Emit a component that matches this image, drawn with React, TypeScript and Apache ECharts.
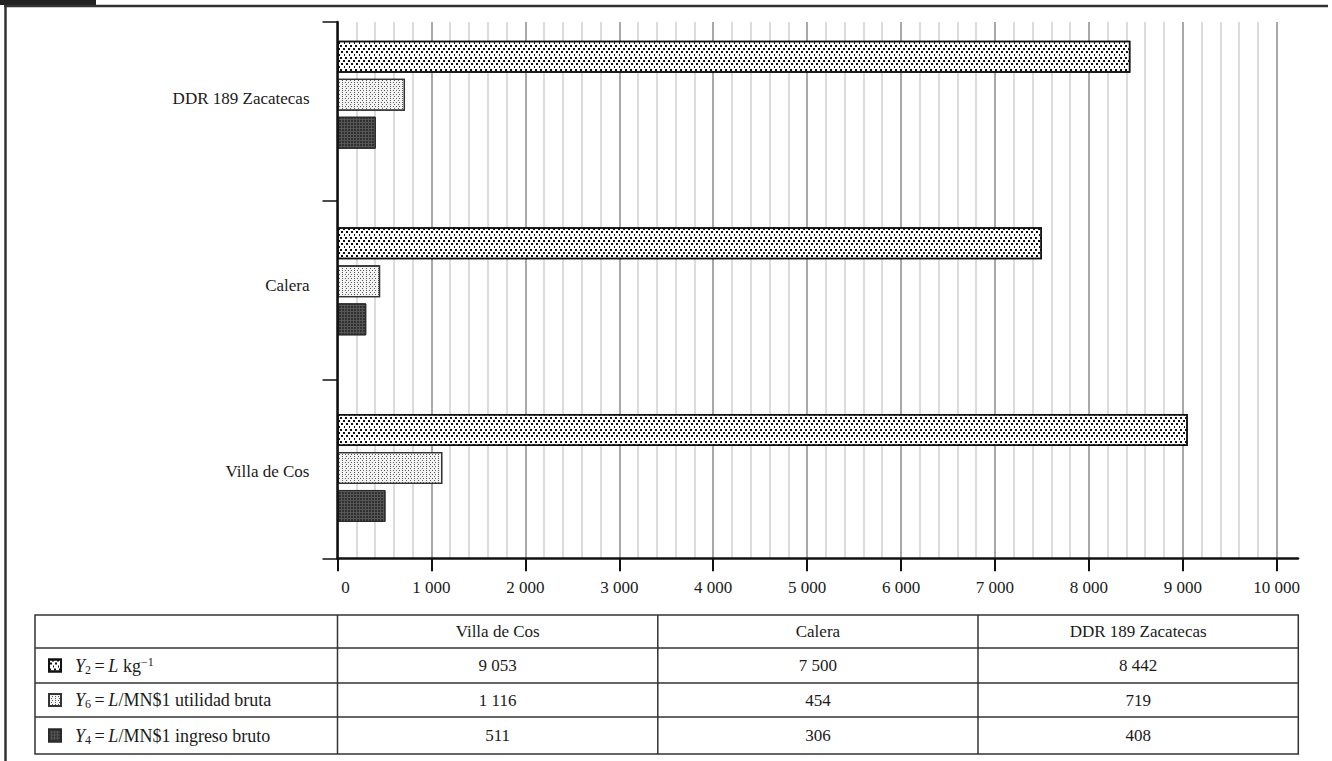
import React, { useEffect, useRef } from 'react';
import * as echarts from 'echarts';

// ---------- data ----------
const categories = ['Villa de Cos', 'Calera', 'DDR 189 Zacatecas'];
const seriesNames = ['Y2 = L kg-1', 'Y6 = L/MN$1 utilidad bruta', 'Y4 = L/MN$1 ingreso bruto'];
const seriesRichLabels = [
  '{y|Y}{sub|2}{r|\u2009=\u2009}{i|L}{r| kg}{sup|\u22121}',
  '{y|Y}{sub|6}{r|\u2009=\u2009}{i|L}{r|/MN$1 utilidad bruta}',
  '{y|Y}{sub|4}{r|\u2009=\u2009}{i|L}{r|/MN$1 ingreso bruto}',
];
const y2Values = [9053, 7500, 8442];
const y6Values = [1116, 454, 719];
const y4Values = [511, 306, 408];
const xMin = 0;
const xMax = 10000;
const xInterval = 1000;

// ---------- layout ----------
const FONT = "'Liberation Serif', 'DejaVu Serif', 'Times New Roman', serif";
const TXT = '#1a1a1a';
const PLOT_LEFT = 337.5;
const PLOT_RIGHT = 1276.7;
const AXIS_TOP = 22;
const AXIS_BOTTOM = 558.3;
const AXIS_LINE_END = 1298;
const BAR_TOP = 1.4;
const BAR_BOTTOM = 561.3;
const TBL_ROWS = [615, 648, 683, 717, 754];
const TBL_COLS = [35, 337.5, 657.8, 978, 1298.3];

const fmt = (n: number) => String(n).replace(/\B(?=(\d{3})+(?!\d))/g, ' ');

const seriesStyles: any[] = [
  {
    color: '#ffffff',
    borderColor: '#111111',
    borderWidth: 1.5,
    decal: {
      symbol: 'rect',
      symbolSize: 1,
      color: '#111111',
      dashArrayX: [[2, 3], [0, 3, 2, 0], [0, 1, 2, 2], [0, 4, 1, 0]],
      dashArrayY: [2, 1],
    },
  },
  {
    color: '#f3f3f3',
    borderColor: '#333333',
    borderWidth: 1.3,
    decal: {
      symbol: 'rect',
      symbolSize: 1,
      color: '#5a5a5a',
      dashArrayX: [[1, 2], [0, 1.5, 1, 0.5]],
      dashArrayY: [1, 1],
    },
  },
  {
    color: '#565656',
    borderColor: '#2a2a2a',
    borderWidth: 1,
    decal: {
      symbol: 'rect',
      symbolSize: 1,
      color: '#303030',
      dashArrayX: [2, 1],
      dashArrayY: [2, 1],
    },
  },
];

const seriesValues = [y2Values, y6Values, y4Values];

export default function App() {
  const ref = useRef<HTMLDivElement>(null);

  useEffect(() => {
    if (!ref.current) return;
    const chart = echarts.init(ref.current, null, { renderer: 'svg' });

    const rowCenters = TBL_ROWS.slice(0, -1).map((y, i) => (y + TBL_ROWS[i + 1]) / 2);
    const colCenters = TBL_COLS.slice(1, -1).map((x, i) => (x + TBL_COLS[i + 2]) / 2);

    const rich = {
      y: { fontFamily: FONT, fontStyle: 'italic', fontSize: 18, color: TXT, lineHeight: 20, padding: [0, 0, 0, 9] },
      i: { fontFamily: FONT, fontStyle: 'italic', fontSize: 18, color: TXT, lineHeight: 20 },
      r: { fontFamily: FONT, fontSize: 18, color: TXT, lineHeight: 20 },
      sub: { fontFamily: FONT, fontSize: 12, color: TXT, lineHeight: 12, padding: [8, 0, 0, 0] },
      sup: { fontFamily: FONT, fontSize: 12, color: TXT, lineHeight: 12, padding: [0, 0, 8, 0] },
    };

    const graphics: any[] = [];
    // frame
    graphics.push({ type: 'rect', shape: { x: 0, y: 0, width: 96, height: 5 }, style: { fill: '#222' } });
    graphics.push({ type: 'line', shape: { x1: 4, y1: 6, x2: 1328, y2: 6 }, style: { stroke: '#333', lineWidth: 2.5 } });
    graphics.push({ type: 'line', shape: { x1: 5.5, y1: 5, x2: 5.5, y2: 761 }, style: { stroke: '#333', lineWidth: 2.5 } });
    // table grid
    graphics.push({
      type: 'rect',
      shape: { x: TBL_COLS[0], y: TBL_ROWS[0], width: TBL_COLS[4] - TBL_COLS[0], height: TBL_ROWS[4] - TBL_ROWS[0] },
      style: { fill: 'none', stroke: '#333', lineWidth: 1.5 },
    });
    TBL_ROWS.slice(1, -1).forEach((y) =>
      graphics.push({ type: 'line', shape: { x1: TBL_COLS[0], y1: y, x2: TBL_COLS[4], y2: y }, style: { stroke: '#333', lineWidth: 1.5 } })
    );
    TBL_COLS.slice(1, -1).forEach((x) =>
      graphics.push({ type: 'line', shape: { x1: x, y1: TBL_ROWS[0], x2: x, y2: TBL_ROWS[4] }, style: { stroke: '#333', lineWidth: 1.5 } })
    );
    // header texts
    categories.forEach((c, j) =>
      graphics.push({
        type: 'text',
        x: colCenters[j],
        y: rowCenters[0],
        style: { text: c, align: 'center', verticalAlign: 'middle', fontFamily: FONT, fontSize: 17, fill: TXT },
      })
    );
    // values
    seriesValues.forEach((vals, r) =>
      vals.forEach((v, j) =>
        graphics.push({
          type: 'text',
          x: colCenters[j],
          y: rowCenters[r + 1],
          style: { text: fmt(v), align: 'center', verticalAlign: 'middle', fontFamily: FONT, fontSize: 17, fill: TXT },
        })
      )
    );

    const option: any = {
      animation: false,
      backgroundColor: '#ffffff',
      grid: [
        { left: PLOT_LEFT, top: BAR_TOP, width: PLOT_RIGHT - PLOT_LEFT, height: BAR_BOTTOM - BAR_TOP, outerBoundsMode: 'none' },
        { left: PLOT_LEFT, top: AXIS_TOP, width: PLOT_RIGHT - PLOT_LEFT, height: AXIS_BOTTOM - AXIS_TOP, outerBoundsMode: 'none' },
        { left: PLOT_LEFT, top: AXIS_TOP, width: AXIS_LINE_END - PLOT_LEFT, height: AXIS_BOTTOM - AXIS_TOP, outerBoundsMode: 'none' },
      ],
      xAxis: [
        { gridIndex: 0, type: 'value', min: xMin, max: xMax, show: false },
        {
          gridIndex: 1,
          type: 'value',
          min: xMin,
          max: xMax,
          interval: xInterval,
          axisLine: { show: false },
          axisTick: { show: true, length: 13, lineStyle: { color: '#111', width: 2 } },
          axisLabel: {
            margin: 21,
            fontSize: 17,
            color: TXT,
            fontFamily: FONT,
            formatter: (v: number) => (v === 0 ? '{z|0}' : fmt(v)),
            rich: { z: { padding: [0, 0, 0, 16], fontSize: 17, fontFamily: FONT, color: TXT } },
          },
          splitLine: { show: true, lineStyle: { color: '#8c8c8c', width: 1.5 } },
          minorTick: { show: false, splitNumber: 5 },
          minorSplitLine: { show: true, lineStyle: { color: '#d0d0d0', width: 1.5 } },
        },
        {
          gridIndex: 2,
          type: 'value',
          min: 0,
          max: 1,
          axisLine: { show: true, onZero: false, lineStyle: { color: '#111', width: 2.5 } },
          axisTick: { show: false },
          axisLabel: { show: false },
          splitLine: { show: false },
          z: 3,
        },
      ],
      yAxis: [
        {
          gridIndex: 0,
          type: 'category',
          data: categories,
          axisLine: { show: false },
          axisTick: { show: false },
          axisLabel: {
            margin: 28,
            formatter: (v: string) => '{c|' + v + '}',
            rich: { c: { fontSize: 17, color: TXT, fontFamily: FONT, padding: [8, 0, 0, 0] } },
          },
        },
        {
          gridIndex: 1,
          type: 'category',
          data: categories,
          axisLine: { show: false },
          axisTick: { show: true, length: 15, lineStyle: { color: '#111', width: 1.5 } },
          axisLabel: { show: false },
        },
        {
          gridIndex: 2,
          type: 'value',
          min: 0,
          max: 1,
          axisLine: { show: true, onZero: false, lineStyle: { color: '#111', width: 2.5 } },
          axisTick: { show: false },
          axisLabel: { show: false },
          splitLine: { show: false },
          z: 3,
        },
      ],
      legend: seriesNames.map((n, i) => ({
        data: [n],
        left: 48,
        top: rowCenters[i + 1] - 10,
        orient: 'vertical',
        padding: 0,
        itemWidth: 12,
        itemHeight: 12,
        icon: 'rect',
        selectedMode: false,
        formatter: () => seriesRichLabels[i],
        textStyle: { rich },
      })),
      series: seriesValues.map((data, i) => ({
        type: 'bar',
        name: seriesNames[i],
        xAxisIndex: 0,
        yAxisIndex: 0,
        data,
        barWidth: 32,
        barGap: '18.75%',
        itemStyle: seriesStyles[i],
        emphasis: { disabled: true },
      })),
      graphic: graphics,
    };

    chart.setOption(option);
    return () => chart.dispose();
  }, []);

  return (
    <div
      ref={ref}
      style={{ position: 'absolute', left: 0, top: 0, width: 1332, height: 761, background: '#fff' }}
    />
  );
}
